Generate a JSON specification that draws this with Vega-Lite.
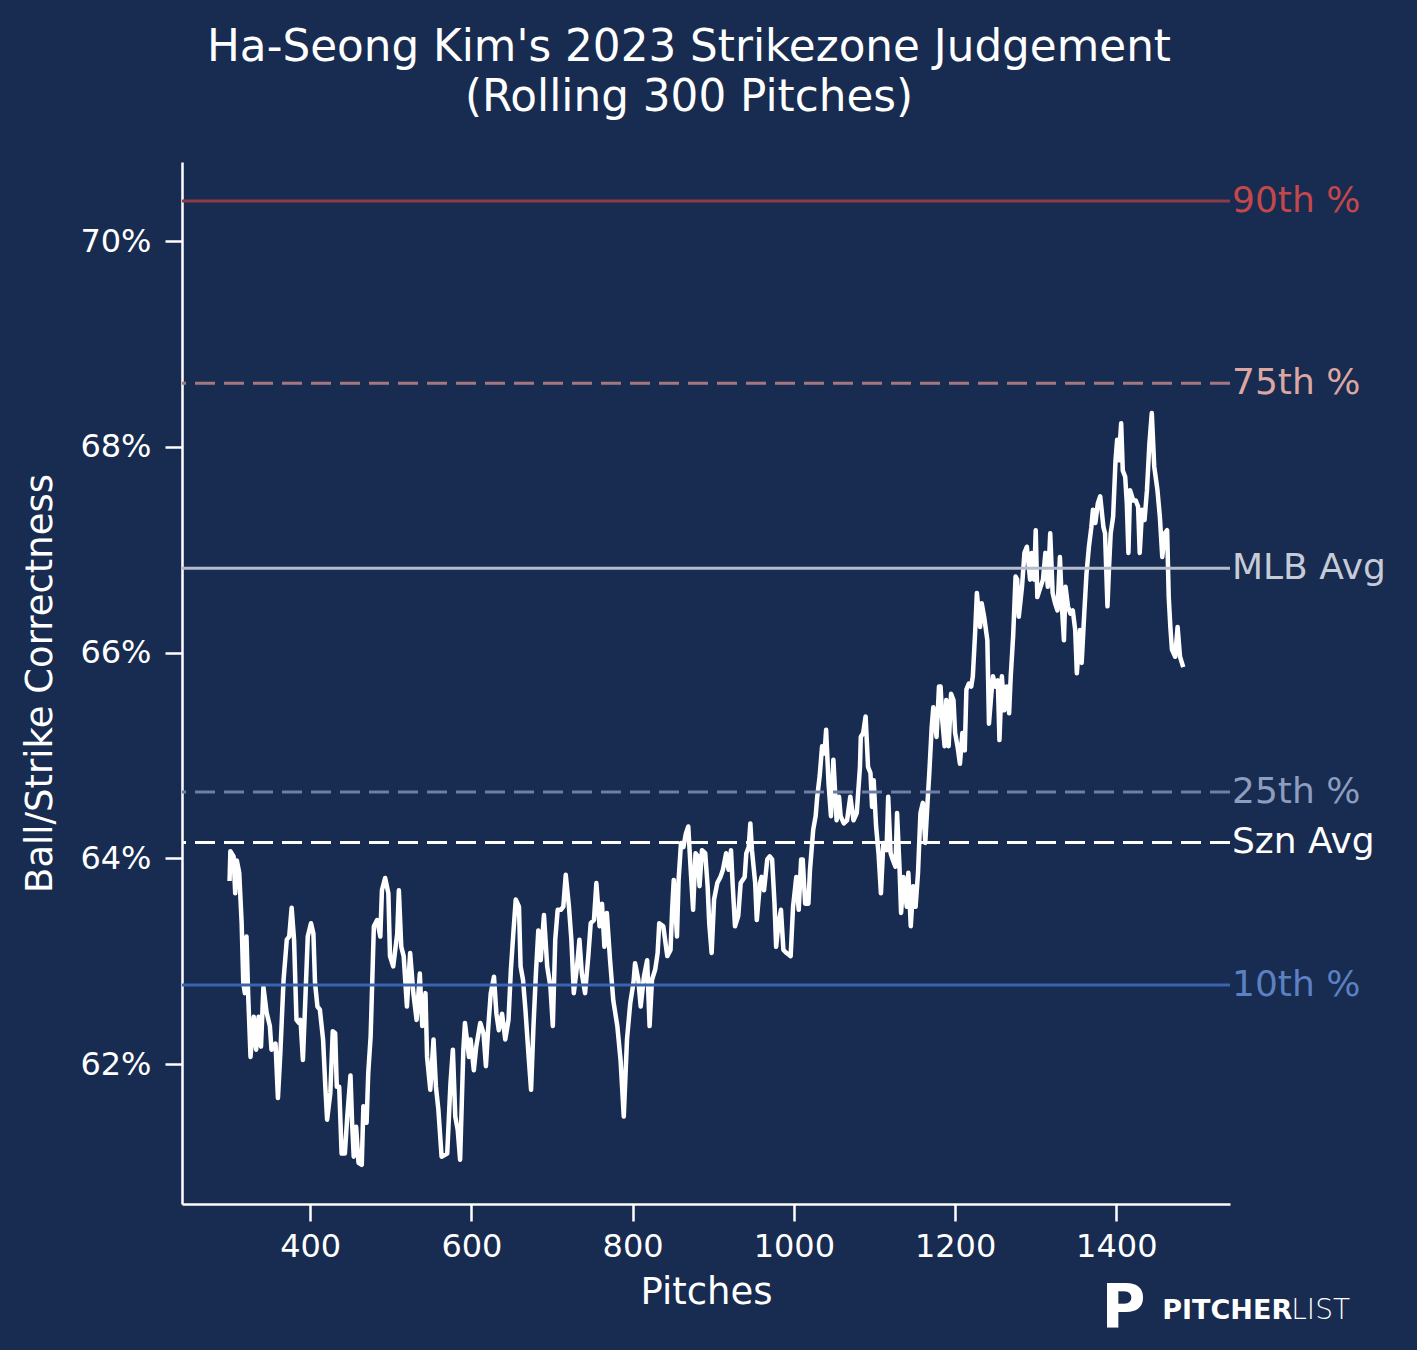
{
  "$schema": "https://vega.github.io/schema/vega-lite/v6.json",
  "width": 1048,
  "height": 1042,
  "autosize": "none",
  "padding": {"left": 182, "top": 162, "right": 187, "bottom": 146},
  "background": "#182b50",
  "config": {
    "font": "DejaVu Sans",
    "view": {"stroke": null},
    "axis": {
      "grid": false,
      "domainColor": "white",
      "domainWidth": 2.5,
      "tickColor": "white",
      "tickWidth": 2.5,
      "tickSize": 17,
      "labelColor": "white",
      "labelFontSize": 32,
      "labelPadding": 10,
      "titleColor": "white",
      "titleFontSize": 37,
      "titleFontWeight": "normal"
    }
  },
  "title": {
    "text": ["Ha-Seong Kim's 2023 Strikezone Judgement", "(Rolling 300 Pitches)"],
    "color": "white",
    "fontSize": 43.7,
    "fontWeight": "normal",
    "lineHeight": 50,
    "anchor": "middle",
    "dx": -17,
    "offset": 42
  },
  "datasets": {
    "rolling": [
      {"pitch":300,"pct":63.78},{"pitch":301,"pct":64.07},{"pitch":305,"pct":64.02},{"pitch":307,"pct":63.66},{"pitch":309,"pct":63.98},{"pitch":312,"pct":63.86},{"pitch":315,"pct":63.37},{"pitch":317,"pct":62.79},{"pitch":319,"pct":62.69},{"pitch":321,"pct":63.24},{"pitch":323,"pct":62.69},{"pitch":326,"pct":62.07},{"pitch":330,"pct":62.46},{"pitch":333,"pct":62.14},{"pitch":336,"pct":62.46},{"pitch":339,"pct":62.17},{"pitch":342,"pct":62.75},{"pitch":346,"pct":62.50},{"pitch":350,"pct":62.37},{"pitch":352,"pct":62.14},{"pitch":357,"pct":62.20},{"pitch":360,"pct":61.67},{"pitch":363,"pct":62.11},{"pitch":367,"pct":62.82},{"pitch":371,"pct":63.21},{"pitch":374,"pct":63.24},{"pitch":377,"pct":63.52},{"pitch":380,"pct":63.21},{"pitch":383,"pct":62.43},{"pitch":386,"pct":62.40},{"pitch":388,"pct":62.43},{"pitch":391,"pct":62.04},{"pitch":394,"pct":62.63},{"pitch":397,"pct":63.24},{"pitch":401,"pct":63.37},{"pitch":404,"pct":63.27},{"pitch":406,"pct":62.79},{"pitch":409,"pct":62.56},{"pitch":412,"pct":62.53},{"pitch":416,"pct":62.24},{"pitch":419,"pct":61.75},{"pitch":421,"pct":61.46},{"pitch":425,"pct":61.72},{"pitch":428,"pct":62.32},{"pitch":431,"pct":62.30},{"pitch":433,"pct":61.78},{"pitch":436,"pct":61.78},{"pitch":439,"pct":61.13},{"pitch":443,"pct":61.13},{"pitch":446,"pct":61.49},{"pitch":450,"pct":61.89},{"pitch":452,"pct":61.43},{"pitch":454,"pct":61.10},{"pitch":457,"pct":61.39},{"pitch":460,"pct":61.04},{"pitch":464,"pct":61.02},{"pitch":466,"pct":61.59},{"pitch":470,"pct":61.43},{"pitch":472,"pct":61.91},{"pitch":475,"pct":62.27},{"pitch":479,"pct":63.34},{"pitch":483,"pct":63.40},{"pitch":487,"pct":63.24},{"pitch":489,"pct":63.69},{"pitch":493,"pct":63.81},{"pitch":497,"pct":63.66},{"pitch":499,"pct":63.05},{"pitch":503,"pct":62.95},{"pitch":508,"pct":63.27},{"pitch":510,"pct":63.69},{"pitch":513,"pct":63.14},
      {"pitch":516,"pct":63.05},{"pitch":520,"pct":62.56},{"pitch":524,"pct":63.08},{"pitch":528,"pct":62.69},{"pitch":532,"pct":62.43},{"pitch":536,"pct":62.88},{"pitch":539,"pct":62.37},{"pitch":543,"pct":62.69},{"pitch":545,"pct":62.07},{"pitch":549,"pct":61.75},{"pitch":553,"pct":62.24},{"pitch":556,"pct":61.78},{"pitch":559,"pct":61.56},{"pitch":563,"pct":61.10},{"pitch":570,"pct":61.13},{"pitch":574,"pct":61.81},{"pitch":577,"pct":62.14},{"pitch":580,"pct":61.49},{"pitch":583,"pct":61.36},{"pitch":586,"pct":61.07},{"pitch":590,"pct":62.14},{"pitch":592,"pct":62.40},{"pitch":597,"pct":62.07},{"pitch":599,"pct":62.24},{"pitch":603,"pct":61.94},{"pitch":606,"pct":62.17},{"pitch":611,"pct":62.40},{"pitch":615,"pct":62.30},{"pitch":618,"pct":61.98},{"pitch":621,"pct":62.37},{"pitch":624,"pct":62.69},{"pitch":628,"pct":62.85},{"pitch":631,"pct":62.49},{"pitch":634,"pct":62.33},{"pitch":638,"pct":62.49},{"pitch":642,"pct":62.24},{"pitch":646,"pct":62.43},{"pitch":649,"pct":62.92},{"pitch":652,"pct":63.27},{"pitch":655,"pct":63.60},{"pitch":659,"pct":63.53},{"pitch":661,"pct":62.95},{"pitch":664,"pct":62.82},{"pitch":667,"pct":62.53},{"pitch":671,"pct":62.07},{"pitch":674,"pct":61.75},{"pitch":677,"pct":62.37},{"pitch":680,"pct":62.88},{"pitch":683,"pct":63.30},{"pitch":686,"pct":63.01},{"pitch":690,"pct":63.45},{"pitch":694,"pct":62.95},{"pitch":698,"pct":62.75},{"pitch":701,"pct":62.37},{"pitch":704,"pct":63.21},{"pitch":707,"pct":63.50},{"pitch":711,"pct":63.50},{"pitch":714,"pct":63.53},{"pitch":717,"pct":63.84},{"pitch":721,"pct":63.53},{"pitch":724,"pct":63.21},{"pitch":727,"pct":62.69},{"pitch":731,"pct":62.95},{"pitch":734,"pct":63.21},{"pitch":737,"pct":62.88},{"pitch":741,"pct":62.69},{"pitch":745,"pct":63.05},{"pitch":748,"pct":63.37},{"pitch":752,"pct":63.40},{"pitch":755,"pct":63.76},{"pitch":759,"pct":63.34},{"pitch":762,"pct":63.56},{"pitch":765,"pct":63.14},{"pitch":768,"pct":63.47},{"pitch":772,"pct":63.01},{"pitch":776,"pct":62.62},{"pitch":781,"pct":62.37},{"pitch":785,"pct":62.04},
      {"pitch":789,"pct":61.49},{"pitch":793,"pct":62.24},{"pitch":797,"pct":62.59},{"pitch":801,"pct":62.79},{"pitch":803,"pct":62.98},{"pitch":807,"pct":62.82},{"pitch":810,"pct":62.56},{"pitch":814,"pct":62.85},{"pitch":818,"pct":63.01},{"pitch":821,"pct":62.37},{"pitch":824,"pct":62.82},{"pitch":828,"pct":62.92},{"pitch":831,"pct":63.08},{"pitch":833,"pct":63.37},{"pitch":838,"pct":63.34},{"pitch":843,"pct":63.05},{"pitch":847,"pct":63.11},{"pitch":849,"pct":63.50},{"pitch":851,"pct":63.79},{"pitch":855,"pct":63.24},{"pitch":857,"pct":63.79},{"pitch":860,"pct":64.15},{"pitch":863,"pct":64.11},{"pitch":866,"pct":64.24},{"pitch":869,"pct":64.31},{"pitch":872,"pct":63.89},{"pitch":875,"pct":63.50},{"pitch":878,"pct":64.05},{"pitch":881,"pct":64.02},{"pitch":883,"pct":63.73},{"pitch":886,"pct":64.08},{"pitch":890,"pct":64.05},{"pitch":893,"pct":63.73},{"pitch":895,"pct":63.37},{"pitch":898,"pct":63.08},{"pitch":901,"pct":63.60},{"pitch":905,"pct":63.76},{"pitch":909,"pct":63.82},{"pitch":912,"pct":63.89},{"pitch":916,"pct":64.05},{"pitch":919,"pct":63.89},{"pitch":922,"pct":64.08},{"pitch":924,"pct":63.76},{"pitch":927,"pct":63.34},{"pitch":931,"pct":63.44},{"pitch":934,"pct":63.76},{"pitch":939,"pct":63.82},{"pitch":941,"pct":64.05},{"pitch":944,"pct":64.11},{"pitch":946,"pct":64.34},{"pitch":948,"pct":64.08},{"pitch":952,"pct":63.76},{"pitch":954,"pct":63.40},{"pitch":958,"pct":63.76},{"pitch":960,"pct":63.82},{"pitch":963,"pct":63.69},{"pitch":967,"pct":63.99},{"pitch":970,"pct":64.02},{"pitch":973,"pct":63.99},{"pitch":976,"pct":63.56},{"pitch":978,"pct":63.14},{"pitch":981,"pct":63.37},{"pitch":984,"pct":63.50},{"pitch":987,"pct":63.11},{"pitch":991,"pct":63.08},{"pitch":996,"pct":63.05},{"pitch":999,"pct":63.53},{"pitch":1003,"pct":63.82},{"pitch":1006,"pct":63.50},{"pitch":1009,"pct":63.99},{"pitch":1011,"pct":63.99},{"pitch":1014,"pct":63.56},{"pitch":1018,"pct":63.56},{"pitch":1020,"pct":63.89},{"pitch":1024,"pct":64.28},{"pitch":1027,"pct":64.41},{"pitch":1029,"pct":64.60},{"pitch":1032,"pct":64.80},{"pitch":1035,"pct":65.09},{"pitch":1038,"pct":65.02},{"pitch":1040,"pct":65.25},{"pitch":1043,"pct":64.73},{"pitch":1046,"pct":64.41},{"pitch":1049,"pct":64.96},{"pitch":1053,"pct":64.37},{"pitch":1056,"pct":64.60},{"pitch":1058,"pct":64.41},{"pitch":1062,"pct":64.34},
      {"pitch":1066,"pct":64.37},{"pitch":1070,"pct":64.60},{"pitch":1074,"pct":64.37},{"pitch":1078,"pct":64.44},{"pitch":1082,"pct":64.89},{"pitch":1083,"pct":65.18},{"pitch":1086,"pct":65.22},{"pitch":1089,"pct":65.38},{"pitch":1092,"pct":64.89},{"pitch":1095,"pct":64.83},{"pitch":1097,"pct":64.50},{"pitch":1099,"pct":64.76},{"pitch":1102,"pct":64.31},{"pitch":1105,"pct":64.05},{"pitch":1108,"pct":63.66},{"pitch":1111,"pct":64.15},{"pitch":1115,"pct":64.08},{"pitch":1117,"pct":64.60},{"pitch":1120,"pct":64.05},{"pitch":1123,"pct":63.98},{"pitch":1126,"pct":63.92},{"pitch":1128,"pct":64.44},{"pitch":1131,"pct":63.92},{"pitch":1133,"pct":63.47},{"pitch":1136,"pct":63.82},{"pitch":1140,"pct":63.53},{"pitch":1142,"pct":63.86},{"pitch":1145,"pct":63.34},{"pitch":1148,"pct":63.73},{"pitch":1151,"pct":63.53},{"pitch":1154,"pct":63.86},{"pitch":1157,"pct":64.44},{"pitch":1160,"pct":64.54},{"pitch":1163,"pct":64.15},{"pitch":1166,"pct":64.57},{"pitch":1168,"pct":64.83},{"pitch":1171,"pct":65.28},{"pitch":1173,"pct":65.47},{"pitch":1177,"pct":65.18},{"pitch":1180,"pct":65.67},{"pitch":1182,"pct":65.67},{"pitch":1184,"pct":65.35},{"pitch":1187,"pct":65.09},{"pitch":1189,"pct":65.54},{"pitch":1192,"pct":65.09},{"pitch":1195,"pct":65.60},{"pitch":1198,"pct":65.54},{"pitch":1200,"pct":65.22},{"pitch":1203,"pct":65.09},{"pitch":1206,"pct":64.92},{"pitch":1209,"pct":65.22},{"pitch":1212,"pct":65.05},{"pitch":1214,"pct":65.64},{"pitch":1217,"pct":65.70},{"pitch":1220,"pct":65.67},{"pitch":1222,"pct":65.77},{"pitch":1225,"pct":66.22},{"pitch":1227,"pct":66.58},{"pitch":1231,"pct":66.25},{"pitch":1233,"pct":66.48},{"pitch":1236,"pct":66.35},{"pitch":1240,"pct":66.12},{"pitch":1242,"pct":65.31},{"pitch":1245,"pct":65.60},{"pitch":1247,"pct":65.77},{"pitch":1250,"pct":65.67},{"pitch":1253,"pct":65.73},{"pitch":1255,"pct":65.15},{"pitch":1258,"pct":65.77},{"pitch":1261,"pct":65.44},{"pitch":1264,"pct":65.67},{"pitch":1267,"pct":65.41},{"pitch":1269,"pct":65.77},
      {"pitch":1272,"pct":66.16},{"pitch":1275,"pct":66.74},{"pitch":1277,"pct":66.71},{"pitch":1279,"pct":66.35},{"pitch":1283,"pct":66.64},{"pitch":1286,"pct":66.97},{"pitch":1289,"pct":67.03},{"pitch":1293,"pct":66.71},{"pitch":1295,"pct":66.97},{"pitch":1298,"pct":66.71},{"pitch":1300,"pct":67.19},{"pitch":1302,"pct":66.54},{"pitch":1306,"pct":66.64},{"pitch":1309,"pct":66.71},{"pitch":1312,"pct":66.97},{"pitch":1315,"pct":66.64},{"pitch":1318,"pct":67.16},{"pitch":1321,"pct":66.58},{"pitch":1324,"pct":66.48},{"pitch":1327,"pct":66.41},{"pitch":1330,"pct":66.93},{"pitch":1333,"pct":66.38},{"pitch":1335,"pct":66.12},{"pitch":1337,"pct":66.64},{"pitch":1340,"pct":66.45},{"pitch":1343,"pct":66.38},{"pitch":1346,"pct":66.41},{"pitch":1349,"pct":66.22},{"pitch":1351,"pct":65.80},{"pitch":1355,"pct":66.22},{"pitch":1357,"pct":65.90},{"pitch":1360,"pct":66.35},{"pitch":1363,"pct":66.77},{"pitch":1366,"pct":67.03},{"pitch":1369,"pct":67.22},{"pitch":1371,"pct":67.39},{"pitch":1374,"pct":67.26},{"pitch":1377,"pct":67.45},{"pitch":1380,"pct":67.52},{"pitch":1384,"pct":67.22},{"pitch":1386,"pct":67.16},{"pitch":1389,"pct":66.45},{"pitch":1391,"pct":66.84},{"pitch":1393,"pct":67.16},{"pitch":1396,"pct":67.32},{"pitch":1399,"pct":67.87},{"pitch":1401,"pct":68.07},{"pitch":1403,"pct":67.87},{"pitch":1406,"pct":68.23},{"pitch":1408,"pct":67.77},{"pitch":1411,"pct":67.71},{"pitch":1413,"pct":67.45},{"pitch":1415,"pct":66.97},{"pitch":1417,"pct":67.58},{"pitch":1421,"pct":67.48},{"pitch":1424,"pct":67.48},{"pitch":1427,"pct":67.42},{"pitch":1429,"pct":66.97},{"pitch":1432,"pct":67.39},{"pitch":1435,"pct":67.29},{"pitch":1438,"pct":67.58},{"pitch":1441,"pct":68.03},{"pitch":1444,"pct":68.33},{"pitch":1447,"pct":67.81},{"pitch":1451,"pct":67.58},{"pitch":1454,"pct":67.32},{"pitch":1457,"pct":66.93},{"pitch":1460,"pct":67.16},{"pitch":1463,"pct":67.19},{"pitch":1465,"pct":66.54},{"pitch":1467,"pct":66.25},{"pitch":1469,"pct":66.03},{"pitch":1473,"pct":65.96},{"pitch":1476,"pct":66.25},{"pitch":1479,"pct":65.96},{"pitch":1483,"pct":65.86}
    ],
    "refs": [
      {"name": "90th %", "value": 70.39},
      {"name": "75th %", "value": 68.62},
      {"name": "MLB Avg", "value": 66.82},
      {"name": "25th %", "value": 64.645},
      {"name": "Szn Avg", "value": 64.155},
      {"name": "10th %", "value": 62.77}
    ]
  },
  "layer": [
    {
      "data": {"name": "rolling"},
      "mark": {"type": "line", "color": "white", "strokeWidth": 4.5, "strokeJoin": "round"},
      "encoding": {
        "x": {
          "field": "pitch",
          "type": "quantitative",
          "scale": {"domain": [241, 1541], "nice": false, "zero": false},
          "axis": {"values": [400, 600, 800, 1000, 1200, 1400], "format": "d", "title": "Pitches", "titlePadding": 12}
        },
        "y": {
          "field": "pct",
          "type": "quantitative",
          "scale": {"domain": [60.64, 70.77], "nice": false, "zero": false},
          "axis": {"values": [62, 64, 66, 68, 70], "labelExpr": "datum.value + '%'", "labelPadding": 14, "title": "Ball/Strike Correctness", "titlePadding": 20}
        }
      }
    },
    {
      "data": {"name": "refs"},
      "mark": {"type": "rule", "strokeWidth": 3},
      "encoding": {
        "y": {"field": "value", "type": "quantitative"},
        "stroke": {
          "field": "name",
          "type": "nominal",
          "legend": null,
          "scale": {
            "domain": ["90th %", "75th %", "MLB Avg", "25th %", "Szn Avg", "10th %"],
            "range": ["#8c3b47", "#a3787f", "#b4bccb", "#6e7fa3", "#ffffff", "#3a65ae"]
          }
        },
        "strokeDash": {
          "field": "name",
          "type": "nominal",
          "legend": null,
          "scale": {
            "domain": ["90th %", "75th %", "MLB Avg", "25th %", "Szn Avg", "10th %"],
            "range": [[1, 0], [20, 9], [1, 0], [20, 9], [20, 9], [1, 0]]
          }
        }
      }
    },
    {
      "data": {"name": "refs"},
      "mark": {"type": "text", "align": "left", "baseline": "middle", "dx": 2, "fontSize": 36},
      "encoding": {
        "x": {"datum": 1541, "type": "quantitative"},
        "y": {"field": "value", "type": "quantitative"},
        "text": {"field": "name"},
        "fill": {
          "field": "name",
          "type": "nominal",
          "legend": null,
          "scale": {
            "domain": ["90th %", "75th %", "MLB Avg", "25th %", "Szn Avg", "10th %"],
            "range": ["#c4474b", "#dca7a2", "#c6ccd7", "#8c9dbf", "#ffffff", "#5b81c2"]
          }
        }
      }
    },
    {
      "data": {"values": [{"label": "P"}]},
      "mark": {"type": "text", "align": "center", "baseline": "middle", "fontSize": 60, "fontWeight": "bold", "color": "white"},
      "encoding": {
        "x": {"datum": 1409, "type": "quantitative"},
        "y": {"datum": 59.62, "type": "quantitative"},
        "text": {"field": "label"}
      }
    },
    {
      "data": {"values": [{"label": "PITCHER"}]},
      "mark": {"type": "text", "align": "left", "baseline": "middle", "fontSize": 27, "fontWeight": "bold", "color": "white"},
      "encoding": {
        "x": {"datum": 1457, "type": "quantitative"},
        "y": {"datum": 59.6, "type": "quantitative"},
        "text": {"field": "label"}
      }
    },
    {
      "data": {"values": [{"label": "LIST"}]},
      "mark": {"type": "text", "align": "left", "baseline": "middle", "fontSize": 28, "fontWeight": 200, "color": "white"},
      "encoding": {
        "x": {"datum": 1617, "type": "quantitative"},
        "y": {"datum": 59.6, "type": "quantitative"},
        "text": {"field": "label"}
      }
    }
  ]
}
